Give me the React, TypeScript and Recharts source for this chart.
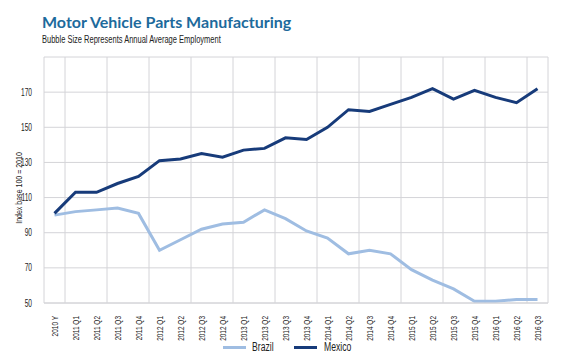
import React from "react";
import { LineChart, Line, XAxis, YAxis, CartesianGrid } from "recharts";

const categories = [
  "2010 Y",
  "2011 Q1", "2011 Q2", "2011 Q3", "2011 Q4",
  "2012 Q1", "2012 Q2", "2012 Q3", "2012 Q4",
  "2013 Q1", "2013 Q2", "2013 Q3", "2013 Q4",
  "2014 Q1", "2014 Q2", "2014 Q3", "2014 Q4",
  "2015 Q1", "2015 Q2", "2015 Q3", "2015 Q4",
  "2016 Q1", "2016 Q2", "2016 Q3",
];

const brazil = [
  100, 102, 103, 104, 101,
  80, 86, 92, 95,
  96, 103, 98, 91,
  87, 78, 80, 78,
  69, 63, 58, 51,
  51, 52, 52,
];

const mexico = [
  101, 113, 113, 118, 122,
  131, 132, 135, 133,
  137, 138, 144, 143,
  150, 160, 159, 163,
  167, 172, 166, 171,
  167, 164, 172,
];

const yTicks = [50, 70, 90, 110, 130, 150, 170];

const data = categories.map((c, i) => ({ i, cat: c, Brazil: brazil[i], Mexico: mexico[i] }));
const xTicks = categories.map((_, i) => i);
const gridTicks = categories.map((_, i) => i - 0.5);

const FONT = "'Liberation Sans', Arial, sans-serif";
const BRAZIL_COLOR = "#9fbde2";
const MEXICO_COLOR = "#173b7a";
const TEXT = "#222222";

const XTick = (props: any) => {
  const { x, y, payload } = props;
  return (
    <text
      x={0}
      y={0}
      transform={`translate(${x + 3}, ${y + 5}) rotate(-90) scale(0.72, 1)`}
      textAnchor="end"
      fontSize={9}
      fontFamily={FONT}
      fill={TEXT}
    >
      {categories[payload.value]}
    </text>
  );
};

const YTick = (props: any) => {
  const { x, y, payload } = props;
  return (
    <text
      x={0}
      y={0}
      transform={`translate(${x}, ${y + 3.5}) scale(0.66, 1)`}
      textAnchor="end"
      fontSize={10}
      fontFamily={FONT}
      fill={TEXT}
    >
      {payload.value}
    </text>
  );
};

const YLabel = (props: any) => {
  const vb = props.viewBox || { x: 0, y: 0, width: 0, height: 0 };
  const cx = vb.x + 22;
  const cy = vb.y + vb.height / 2 + 8;
  return (
    <text
      x={0}
      y={0}
      transform={`translate(${cx}, ${cy}) rotate(-90) scale(0.74, 1)`}
      textAnchor="middle"
      fontSize={9.5}
      fontFamily={FONT}
      fill={TEXT}
    >
      Index base 100 = 2010
    </text>
  );
};

const legendText: React.CSSProperties = {
  position: "absolute",
  top: 340,
  fontFamily: FONT,
  fontSize: 12,
  lineHeight: "14px",
  color: TEXT,
  transform: "scaleX(0.72)",
  transformOrigin: "left top",
  whiteSpace: "nowrap",
};

export default function App() {
  return (
    <div style={{ position: "absolute", left: 0, top: 0, width: 580, height: 360, background: "#fff" }}>
      <div
        style={{
          position: "absolute",
          left: 42,
          top: 13,
          fontFamily: "Lato, 'Open Sans', sans-serif",
          fontWeight: 700,
          fontSize: 16,
          color: "#1d6a9c",
          whiteSpace: "nowrap",
          lineHeight: "18px",
        }}
      >
        Motor Vehicle Parts Manufacturing
      </div>
      <div
        style={{
          position: "absolute",
          left: 42,
          top: 34,
          fontFamily: FONT,
          fontSize: 10,
          color: "#222",
          whiteSpace: "nowrap",
          lineHeight: "11px",
          transform: "scaleX(0.75)",
          transformOrigin: "left top",
        }}
      >
        Bubble Size Represents Annual Average Employment
      </div>
      <LineChart
        width={580}
        height={360}
        data={data}
        margin={{ top: 57, right: 32, bottom: 0, left: 0 }}
      >
        <XAxis xAxisId="grid" type="number" dataKey="i" domain={[-0.5, 23.5]} ticks={gridTicks} hide />
        <CartesianGrid xAxisId="grid" stroke="#d4d4d8" strokeWidth={1} />
        <XAxis
          type="number"
          dataKey="i"
          domain={[-0.5, 23.5]}
          ticks={xTicks}
          interval={0}
          height={57}
          axisLine={{ stroke: "#d4d4d8" }}
          tickLine={false}
          tick={<XTick />}
        />
        <YAxis
          type="number"
          domain={[50, 190]}
          ticks={yTicks}
          width={44}
          axisLine={false}
          tickLine={false}
          tick={<YTick />}
          tickMargin={6}
          label={<YLabel />}
        />
        <Line
          type="linear"
          dataKey="Brazil"
          stroke={BRAZIL_COLOR}
          strokeWidth={3}
          dot={false}
          isAnimationActive={false}
        />
        <Line
          type="linear"
          dataKey="Mexico"
          stroke={MEXICO_COLOR}
          strokeWidth={3}
          dot={false}
          isAnimationActive={false}
        />
      </LineChart>
      <span style={{ position: "absolute", left: 223, top: 346, width: 23, height: 3, background: BRAZIL_COLOR }} />
      <span style={{ ...legendText, left: 252 }}>Brazil</span>
      <span style={{ position: "absolute", left: 294, top: 346, width: 23, height: 3, background: MEXICO_COLOR }} />
      <span style={{ ...legendText, left: 324 }}>Mexico</span>
    </div>
  );
}
